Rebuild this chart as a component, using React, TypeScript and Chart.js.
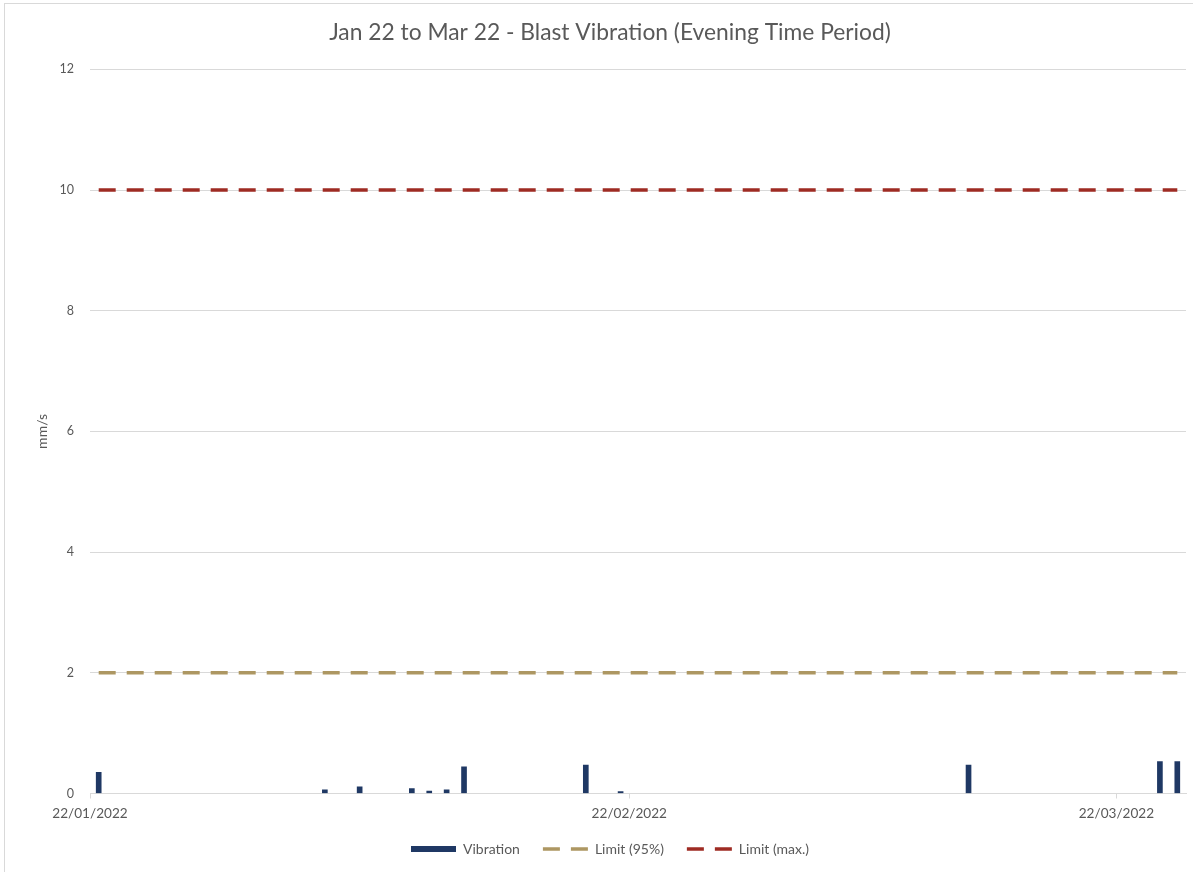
import React, { useEffect, useRef } from "react";
import { Chart, registerables } from "chart.js";

Chart.register(...registerables);

const startDate = "2022-01-22";
const endDate = "2022-03-25";
const vibrationDates = [
  "2022-01-22", "2022-02-04", "2022-02-06", "2022-02-09", "2022-02-10", "2022-02-11",
  "2022-02-12", "2022-02-19", "2022-02-21", "2022-03-13", "2022-03-24", "2022-03-25",
];
const vibrationValues = [0.35, 0.06, 0.11, 0.08, 0.04, 0.06, 0.44, 0.47, 0.03, 0.47, 0.53, 0.53];
const tickDates = ["2022-01-22", "2022-02-22", "2022-03-22"];
const tickLabels = ["22/01/2022", "22/02/2022", "22/03/2022"];
const limit95 = 2;
const limitMax = 10;
const yTicks = [0, 2, 4, 6, 8, 10, 12];

const dayIndex = (d: string) => Math.round((Date.parse(d) - Date.parse(startDate)) / 86400000);
const totalDays = dayIndex(endDate) + 1;

const FONT = "Lato, 'Open Sans', sans-serif";
const GREY = "#595959";
const GRID = "#d9d9d9";

export default function App() {
  const ref = useRef<HTMLCanvasElement | null>(null);

  useEffect(() => {
    if (!ref.current) return;
    const first = 0.5;
    const last = totalDays - 0.5;
    const chart = new Chart(ref.current, {
      type: "bar",
      data: {
        datasets: [
          {
            type: "bar",
            label: "Vibration",
            data: vibrationDates.map((d, i) => ({ x: dayIndex(d) + 0.5, y: vibrationValues[i] })),
            backgroundColor: "#1F3864",
            borderWidth: 0,
            barThickness: 5,
            pointStyle: "rect",
          } as any,
          {
            type: "line",
            label: "Limit (95%)",
            data: [{ x: first, y: limit95 }, { x: last, y: limit95 }],
            borderColor: "#AD9762",
            backgroundColor: "#AD9762",
            borderWidth: 3.5,
            borderDash: [17, 11],
            pointRadius: 0,
            pointStyle: "line",
          } as any,
          {
            type: "line",
            label: "Limit (max.)",
            data: [{ x: first, y: limitMax }, { x: last, y: limitMax }],
            borderColor: "#9E2B23",
            backgroundColor: "#9E2B23",
            borderWidth: 3.5,
            borderDash: [17, 11],
            pointRadius: 0,
            pointStyle: "line",
          } as any,
        ],
      },
      options: {
        animation: false,
        responsive: false,
        maintainAspectRatio: false,
        layout: { padding: { left: 34, right: 7, top: 0, bottom: 6 } },
        plugins: {
          title: {
            display: true,
            text: "Jan 22 to Mar 22 - Blast Vibration (Evening Time Period)",
            color: GREY,
            font: { family: FONT, size: 22.8, weight: "normal" },
            padding: { top: 19, bottom: 23 },
          },
          legend: {
            position: "bottom",
            labels: {
              color: GREY,
              font: { family: FONT, size: 14 },
              usePointStyle: true,
              pointStyleWidth: 45,
              boxHeight: 6,
              padding: 23,
              generateLabels: (c: any) =>
                c.data.datasets.map((ds: any, i: number) => ({
                  text: ds.label,
                  fillStyle: ds.backgroundColor,
                  strokeStyle: ds.type === "bar" ? ds.backgroundColor : ds.borderColor,
                  lineWidth: ds.type === "bar" ? 0 : 3.5,
                  lineDash: ds.type === "bar" ? [] : [17, 11],
                  pointStyle: ds.type === "bar" ? "rect" : "line",
                  fontColor: GREY,
                  hidden: false,
                  datasetIndex: i,
                })),
            },
          },
          tooltip: { enabled: false },
        },
        scales: {
          x: {
            type: "linear",
            offset: false,
            min: 0,
            max: totalDays,
            afterBuildTicks: (scale: any) => {
              scale.ticks = tickDates.map((d) => ({ value: dayIndex(d) }));
            },
            afterFit: (scale: any) => {
              scale.height = 25.5;
            },
            ticks: {
              autoSkip: false,
              maxRotation: 0,
              color: GREY,
              font: { family: FONT, size: 13.6 },
              padding: 7,
              callback: (v: any) => {
                const i = tickDates.findIndex((d) => dayIndex(d) === v);
                return i >= 0 ? tickLabels[i] : "";
              },
            },
            grid: { offset: false, drawOnChartArea: false, drawTicks: true, tickLength: 5, color: GRID },
            border: { display: true, color: GRID },
          },
          y: {
            min: 0,
            max: 12,
            afterBuildTicks: (scale: any) => {
              scale.ticks = yTicks.map((v) => ({ value: v }));
            },
            afterFit: (scale: any) => {
              scale.width = 56;
            },
            title: {
              display: true,
              text: "mm/s",
              color: GREY,
              font: { family: FONT, size: 14 },
              padding: 0,
            },
            ticks: {
              color: GREY,
              font: { family: FONT, size: 12.5 },
              padding: 16,
            },
            grid: { color: GRID, drawTicks: false },
            border: { display: false },
          },
        },
      } as any,
    });
    return () => chart.destroy();
  }, []);

  return (
    <div
      style={{
        position: "fixed",
        left: 0,
        top: 0,
        width: 1193,
        height: 872,
        background: "#fff",
        overflow: "hidden",
      }}
    >
      <div
        style={{
          position: "absolute",
          left: 4,
          top: 3,
          width: 1200,
          height: 900,
          borderLeft: "1px solid #d9d9d9",
          borderTop: "1px solid #d9d9d9",
        }}
      />
      <canvas ref={ref} width={1193} height={872} style={{ position: "absolute", left: 0, top: 0 }} />
    </div>
  );
}
